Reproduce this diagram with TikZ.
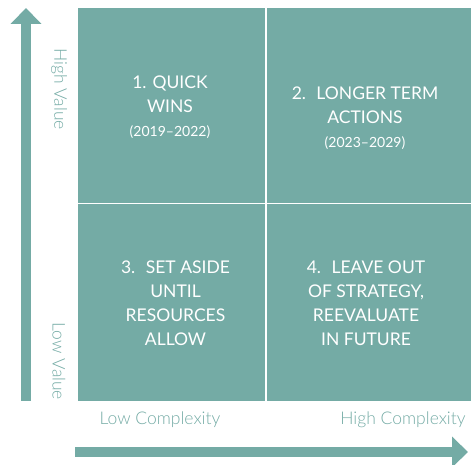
\documentclass[tikz,border=0pt]{standalone}
\usepackage{fontspec}
\setmainfont{Lato}
\newfontfamily\lightfont{Lato Light}
\usetikzlibrary{arrows.meta}
\definecolor{matrixgreen}{RGB}{116,171,165}
\tikzset{
	axisarrow/.style = {matrixgreen, line width=10pt, -{Triangle[width=30pt,length=16pt]}},
	quadtext/.style = {white, align=center, font=\fontsize{17.5}{24}\selectfont},
	axislabel/.style = {matrixgreen, font=\lightfont\fontsize{17.5}{20}\selectfont}
}

\begin{document}
\begin{tikzpicture}[x = 1pt, y = -1pt]

	\useasboundingbox (0,0) rectangle (471,465);

	% the four squares
	\fill [matrixgreen] (78,8) rectangle (471,400.5);
	\draw [white, line width = 1.2] (266,8) -- (266,400.5);
	\draw [white, line width = 1.2] (78,203.5) -- (471,203.5);

	\node[quadtext] (quick) at (170,107) {1. QUICK\\WINS\\{\fontsize{14}{24}\selectfont (2019--2022)}};
	\node[quadtext] (longer) at (365,118) {2.~ LONGER TERM\\ACTIONS\\{\fontsize{14}{24}\selectfont (2023--2029)}};
	\node[quadtext] (aside) at (175.5,303) {3.~ SET ASIDE\\UNTIL\\RESOURCES\\ALLOW};
	\node[quadtext] (leave) at (366,303) {4.~ LEAVE OUT\\OF STRATEGY,\\REEVALUATE\\IN FUTURE};

	% axes
	\coordinate (value low) at (26,400.5);
	\coordinate (value high) at (26,8);
	\coordinate (complex low) at (75,452);
	\coordinate (complex high) at (468,452);
	\draw [axisarrow] (value low) -- (value high);
	\draw [axisarrow] (complex low) -- (complex high);

	\node[axislabel, rotate = -90] (highvalue) at (59,89) {High Value};
	\node[axislabel, rotate = -90] (lowvalue) at (59,361.5) {Low Value};
	\node[axislabel, anchor = base] (lowcomplex) at (160,424) {Low Complexity};
	\node[axislabel, anchor = base] (highcomplex) at (403,424) {High Complexity};

\end{tikzpicture}
\end{document}
